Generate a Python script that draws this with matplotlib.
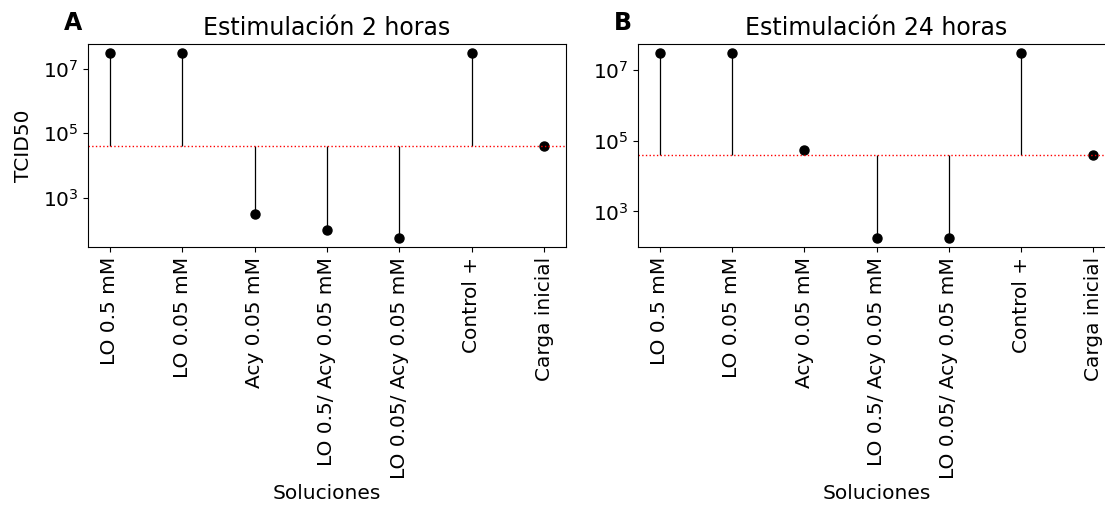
import matplotlib
matplotlib.use("Agg")
import matplotlib.pyplot as plt
import numpy as np

soluciones = ["LO 0.5 mM", "LO 0.05 mM", "Acy 0.05 mM", "LO 0.5/ Acy 0.05 mM",
              "LO 0.05/ Acy 0.05 mM", "Control +", "Carga inicial"]
tcid_2h = [3.1e7, 3.1e7, 316, 100, 55, 3.1e7, 4.1e4]
tcid_24h = [3.1e7, 3.1e7, 5.5e4, 175, 175, 3.1e7, 3.9e4]

fig = plt.figure(figsize=(11.05, 5.07), dpi=100)
ax_a = fig.add_axes([0.0796, 0.512, 0.4326, 0.402])
ax_b = fig.add_axes([0.5774, 0.512, 0.4317, 0.402])


def draw_panel(ax, values, title, letter, ylabel=None):
    x = np.arange(len(values))
    base = values[-1]
    ax.vlines(x, base, values, color='black', lw=0.9)
    ax.plot(x, values, 'o', color='black', markersize=6.5)
    ax.axhline(base, color='red', ls=':', lw=1)
    ax.set_yscale('log')
    ax.set_xticks(x)
    ax.set_xticklabels(soluciones, rotation=90, fontsize=14.5)
    ax.tick_params(axis='y', labelsize=14.5)
    ax.yaxis.set_minor_locator(matplotlib.ticker.NullLocator())
    ax.set_xlabel('Soluciones', fontsize=14.5)
    if ylabel:
        ax.set_ylabel(ylabel, fontsize=14.5, labelpad=7)
    ax.set_title(title, fontsize=17)
    ax.text(-0.05, 1.04, letter, transform=ax.transAxes, fontsize=17,
            fontweight='bold', ha='left', va='bottom')


draw_panel(ax_a, tcid_2h, 'Estimulación 2 horas', 'A', ylabel='TCID50')
draw_panel(ax_b, tcid_24h, 'Estimulación 24 horas', 'B')

fig.savefig('out.png', dpi=100)
